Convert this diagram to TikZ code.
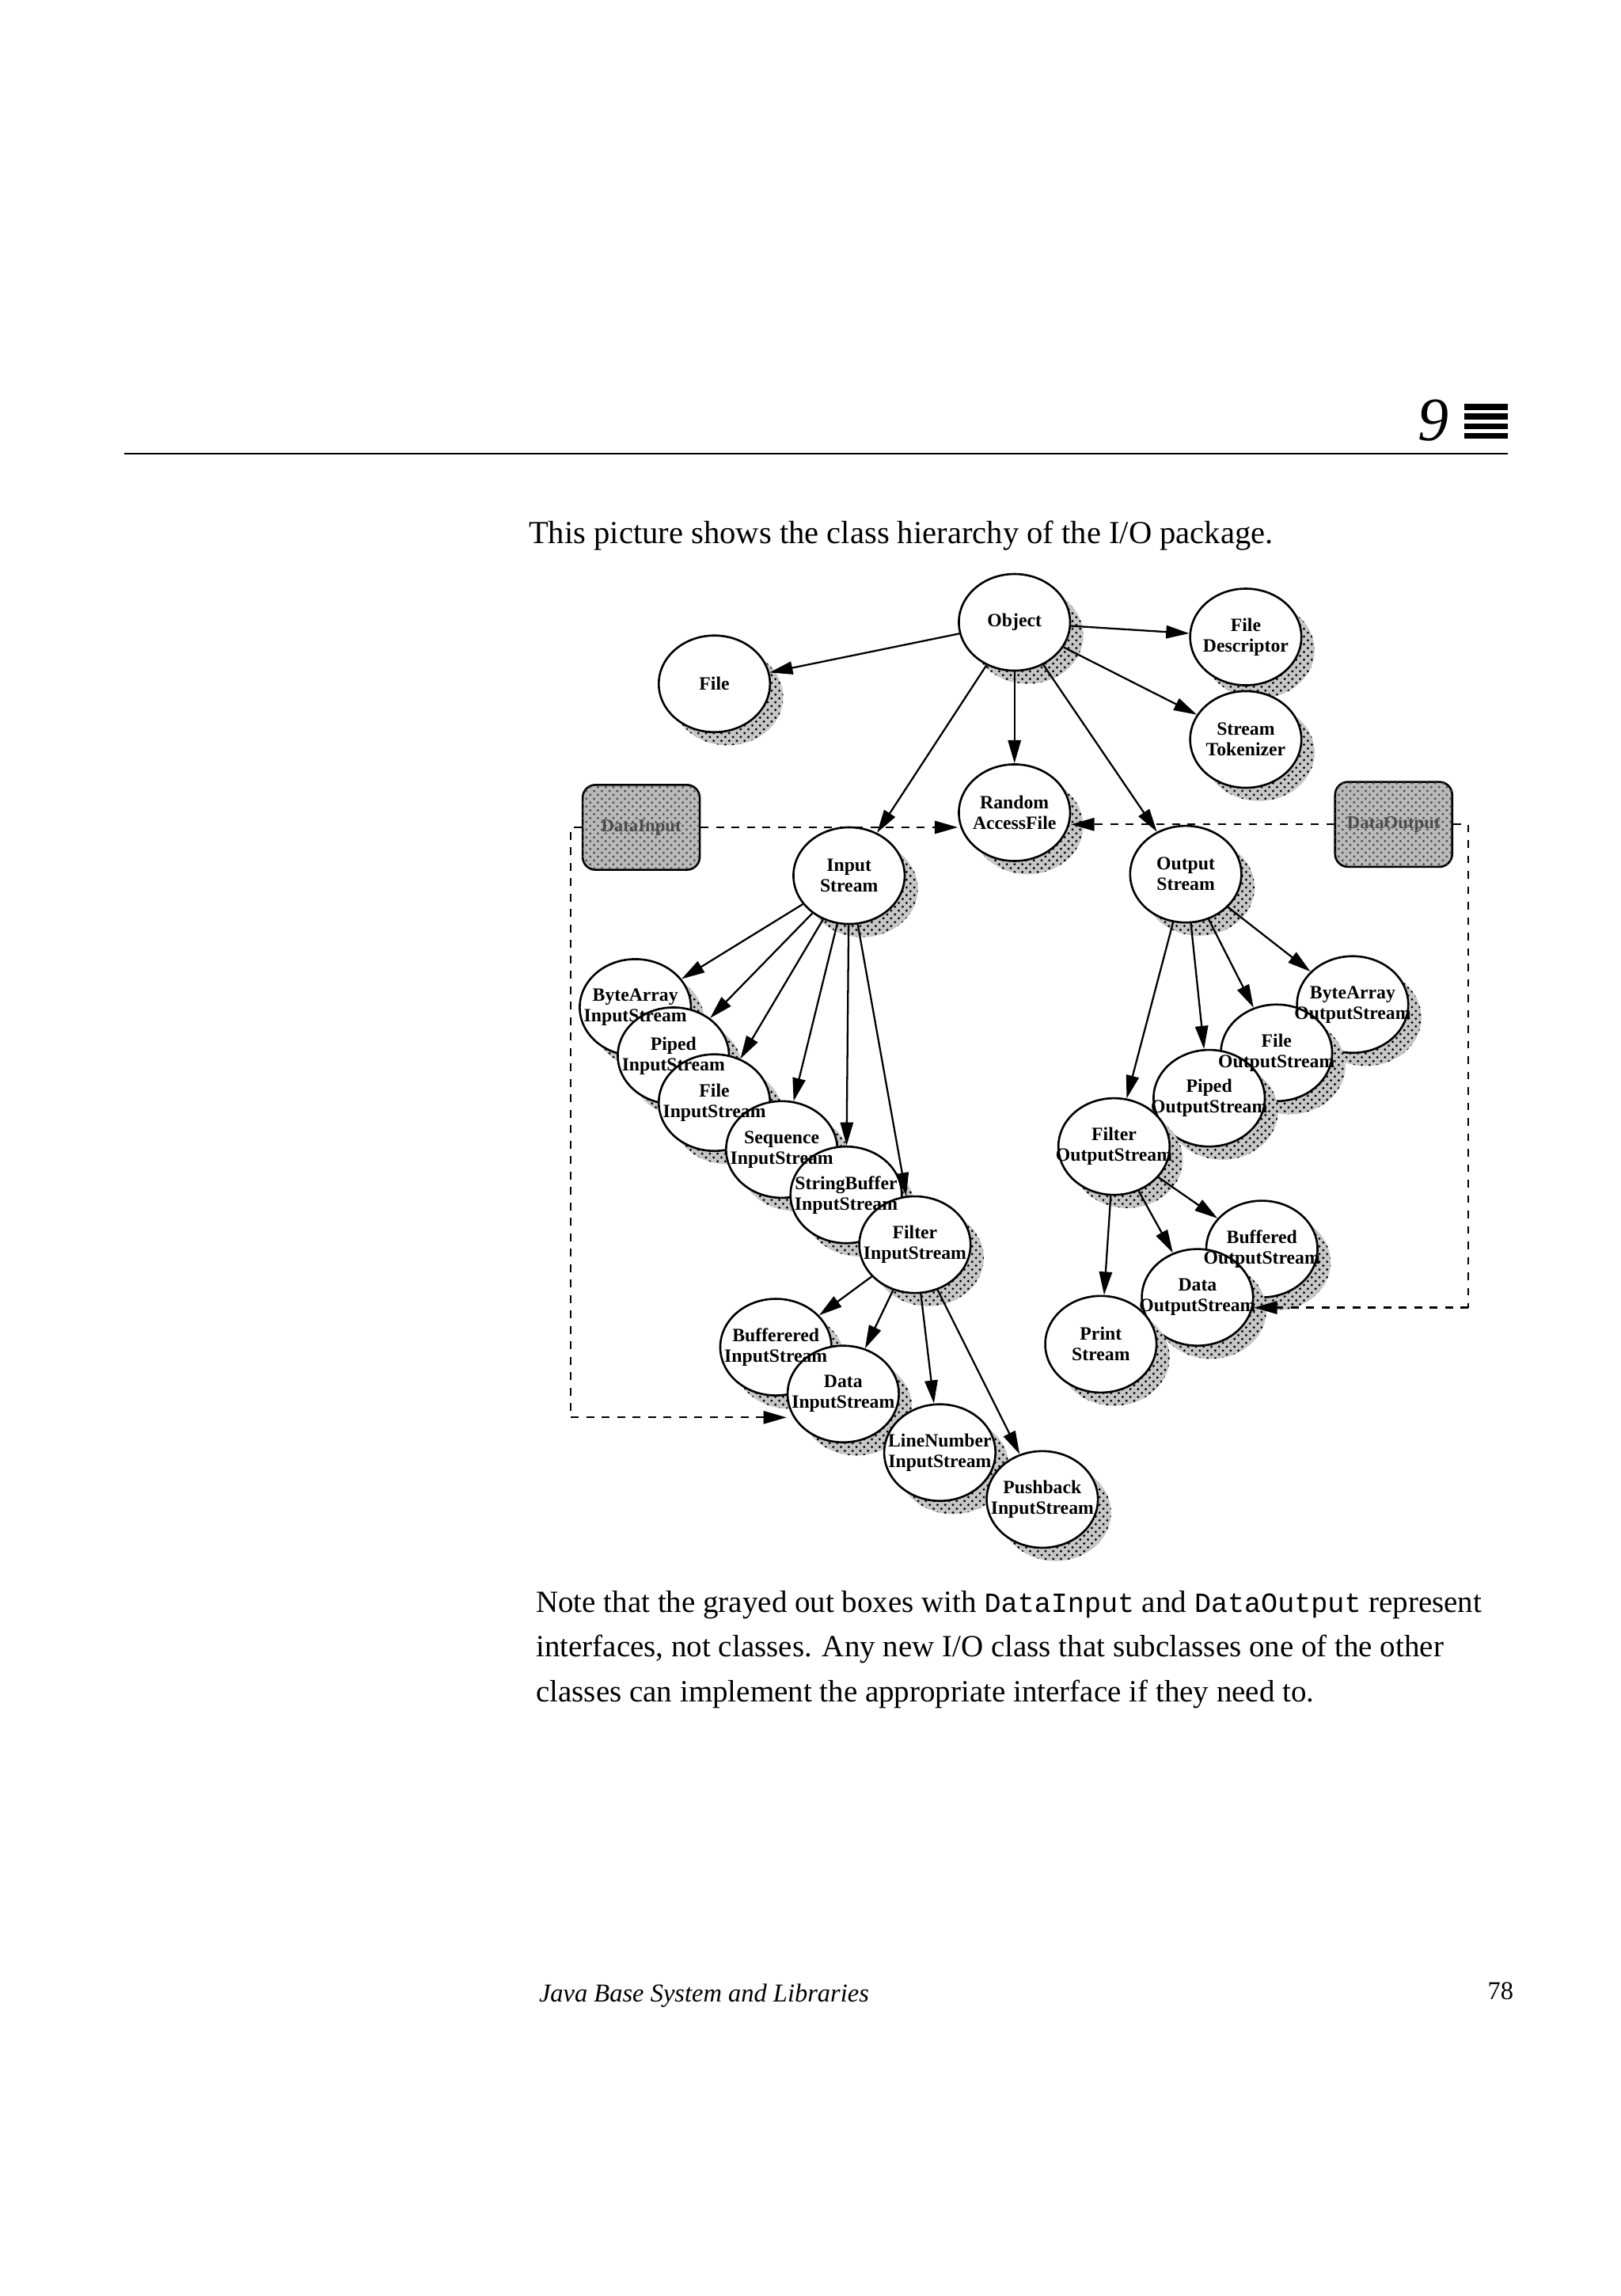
\documentclass[tikz,border=0pt]{standalone}
\usepackage{fontspec}
\setmainfont{Liberation Serif}
\setmonofont[Scale=0.9]{Liberation Mono}
\usetikzlibrary{shapes.geometric,arrows.meta,patterns,calc}
\begin{document}
\begin{tikzpicture}[x=0.02cm,y=-0.02cm,
  cls/.style={ellipse,draw,line width=0.8pt,fill=white,minimum width=1.52cm,minimum height=1.32cm,inner sep=0pt},
  lbl/.style={align=center,inner sep=0pt,font=\fontsize{7.3}{8}\selectfont\bfseries},
  shd/.style={ellipse,fill=gray!45,postaction={pattern=crosshatch dots,pattern color=black},minimum width=1.52cm,minimum height=1.32cm,inner sep=0pt},
  ifc/.style={rounded corners=5pt,draw,line width=0.8pt,fill=gray!55,postaction={pattern=crosshatch dots,pattern color=black!70},minimum width=1.6cm,minimum height=1.16cm,font=\fontsize{7}{8}\selectfont\bfseries,text=black!70},
  arr/.style={-{Triangle[length=9pt,width=5pt]},line width=0.7pt},
  das/.style={dashed,line width=0.7pt}]
\useasboundingbox (0,0) rectangle (1107,1568);
\newcommand\cls[2]{\node[shd] at ($(#2)+(9,9)$) {};\node[cls] (#1) at (#2) {};}
% header
\node[font=\itshape\fontsize{24}{24}\selectfont,anchor=east] (nine) at (996,287) {9};
\foreach \i in {0,1,2,3} {\fill (1000,{276+\i*6.5}) rectangle (1030,{280+\i*6.5});}
\draw[line width=0.6pt] (85,310) -- (1030,310);
\node[anchor=west,font=\fontsize{12.5}{14}\selectfont] (cap) at (355,366) {This picture shows the class hierarchy of the I/O package.};
% interface boxes
\node[ifc] (din) at (438,565) {DataInput};
\node[ifc] (dout) at (952,563) {DataOutput};
% nodes
\cls{obj}{693,425}
\cls{file}{488,467}
\cls{fd}{851,435}
\cls{st}{851,505}
\cls{raf}{693,555}
\cls{is}{580,598}
\cls{os}{810,597}
\cls{bais}{434,688}
\cls{pis}{460,721}
\cls{fis}{488,753}
\cls{sis}{534,785}
\cls{sbis}{578,816}
\cls{filis}{625,850}
\cls{bis}{530,920}
\cls{dis}{576,952}
\cls{lnis}{642,992}
\cls{pbis}{712,1024}
\cls{baos}{924,686}
\cls{fos}{872,719}
\cls{pos}{826,750}
\cls{filos}{761,783}
\cls{bos}{862,853}
\cls{dos}{818,886}
\cls{ps}{752,918}
% labels
\foreach \n/\t in {obj/Object,file/File,fd/File\\Descriptor,st/Stream\\Tokenizer,raf/Random\\AccessFile,is/Input\\Stream,os/Output\\Stream,bais/ByteArray\\InputStream,pis/Piped\\InputStream,fis/File\\InputStream,sis/Sequence\\InputStream,sbis/StringBuffer\\InputStream,filis/Filter\\InputStream,bis/Bufferered\\InputStream,dis/Data\\InputStream,lnis/LineNumber\\InputStream,pbis/Pushback\\InputStream,baos/ByteArray\\OutputStream,fos/File\\OutputStream,pos/Piped\\OutputStream,filos/Filter\\OutputStream,bos/Buffered\\OutputStream,dos/Data\\OutputStream,ps/Print\\Stream}
  \node[lbl] at (\n) {\t};
% arrows
\foreach \t in {file,fd,st,raf,is,os} \draw[arr] (obj) -- (\t);
\foreach \t in {bais,pis,fis,sis,sbis,filis} \draw[arr] (is) -- (\t);
\foreach \t in {bis,dis,lnis,pbis} \draw[arr] (filis) -- (\t);
\foreach \t in {baos,fos,pos,filos} \draw[arr] (os) -- (\t);
\foreach \t in {bos,dos,ps} \draw[arr] (filos) -- (\t);
% dashed implements
\coordinate (c1) at (390,565);
\coordinate (c2) at (390,968);
\coordinate (c3) at (1003,563);
\coordinate (c4) at (1003,893);
\draw[das] (din.west) -- (c1) -- (c2);
\draw[das,-{Triangle[length=9pt,width=5pt]}] (c2) -- (dis.west |- c2);
\draw[das,-{Triangle[length=9pt,width=5pt]}] (din.east) -- (raf.west |- din.east);
\draw[das,-{Triangle[length=9pt,width=5pt]}] (dout.west) -- (raf.east |- dout.west);
\draw[das] (dout.east) -- (c3) -- (c4);
\draw[das,-{Triangle[length=9pt,width=5pt]}] (c4) -- (dos.east |- c4);
% note
\node[anchor=north west,align=left,font=\fontsize{12}{17.5}\selectfont] (note) at (360,1080) {Note that the grayed out boxes with \texttt{DataInput} and \texttt{DataOutput} represent\\ interfaces, not classes. Any new I/O class that subclasses one of the other\\ classes can implement the appropriate interface if they need to.};
\node[anchor=west,font=\itshape\fontsize{10}{12}\selectfont] (foot) at (362,1363) {Java Base System and Libraries};
\node[anchor=east,font=\fontsize{10}{12}\selectfont] (pg) at (1040,1360) {78};
\end{tikzpicture}
\end{document}
